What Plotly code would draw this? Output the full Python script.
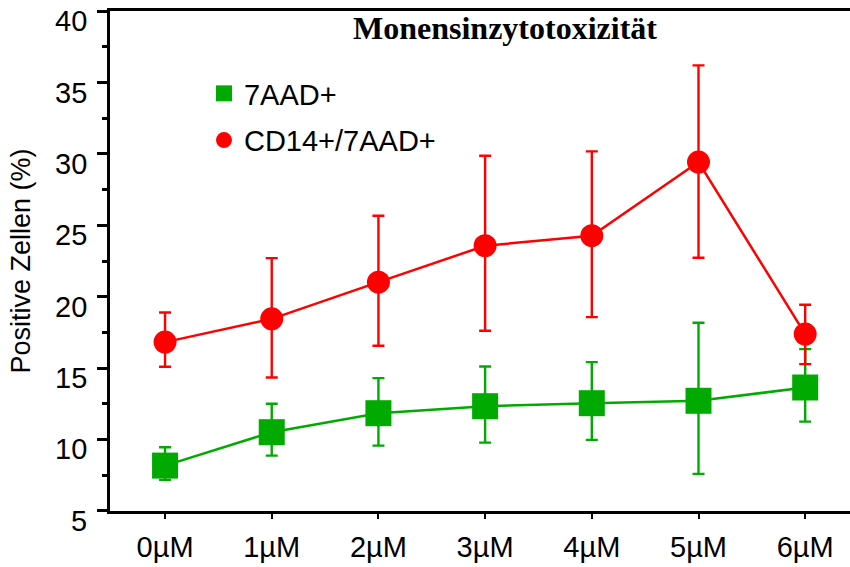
import plotly.graph_objects as go

categories = ["0µM", "1µM", "2µM", "3µM", "4µM", "5µM", "6µM"]

# 7AAD+ (green squares)
green_mean = [8.17, 10.51, 11.84, 12.33, 12.54, 12.71, 13.64]
green_upper = [9.46, 12.50, 14.30, 15.11, 15.42, 18.17, 16.33]
green_lower = [7.17, 8.87, 9.57, 9.78, 9.97, 7.59, 11.25]

# CD14+/7AAD+ (red circles)
red_mean = [16.82, 18.45, 21.02, 23.57, 24.27, 29.43, 17.38]
red_upper = [18.89, 22.70, 25.67, 29.87, 30.18, 36.20, 19.44]
red_lower = [15.09, 14.34, 16.56, 17.61, 18.57, 22.73, 15.28]

y_ticks = [5, 10, 15, 20, 25, 30, 35, 40]

GREEN = "#00AA00"
RED = "#FF0000"

xs = list(range(len(categories)))

def err(mean, up, lo):
    return ([u - m for u, m in zip(up, mean)], [m - l for m, l in zip(mean, lo)])

g_plus, g_minus = err(green_mean, green_upper, green_lower)
r_plus, r_minus = err(red_mean, red_upper, red_lower)

fig = go.Figure()

fig.add_trace(go.Scatter(
    x=xs, y=green_mean, mode="lines+markers", showlegend=False,
    line=dict(color=GREEN, width=2.5),
    marker=dict(symbol="square", size=26, color=GREEN),
    error_y=dict(type="data", symmetric=False, array=g_plus, arrayminus=g_minus,
                 color=GREEN, thickness=2.4, width=6),
))
fig.add_trace(go.Scatter(
    x=xs, y=red_mean, mode="lines+markers", showlegend=False,
    line=dict(color=RED, width=2.5),
    marker=dict(symbol="circle", size=23, color=RED),
    error_y=dict(type="data", symmetric=False, array=r_plus, arrayminus=r_minus,
                 color=RED, thickness=2.4, width=6),
))

# legend entries
fig.add_trace(go.Scatter(x=[None], y=[None], mode="markers", name="7AAD+",
                         legendgroup="a",
                         marker=dict(symbol="square", size=26, color=GREEN)))
fig.add_trace(go.Scatter(x=[None], y=[None], mode="markers", name="CD14+/7AAD+",
                         legendgroup="b",
                         marker=dict(symbol="circle", size=23, color=RED)))

fig.add_annotation(
    text="<b>Monensinzytotoxizität</b>", xref="paper", yref="paper",
    x=0.534, y=0.967, xanchor="center", yanchor="middle", showarrow=False,
    font=dict(family="Liberation Serif, Times New Roman, serif", size=32, color="black"),
)

# y tick labels (sit just below their tick marks, as in the reference)
for v in y_ticks:
    fig.add_annotation(
        text=str(v), xref="paper", yref="y", x=0, y=v,
        xanchor="right", yanchor="middle", xshift=-21, yshift=-10,
        showarrow=False, font=dict(size=29, color="black"),
    )

fig.update_layout(
    width=850, height=567,
    margin=dict(l=110, r=0, t=11, b=56, autoexpand=False),
    paper_bgcolor="white", plot_bgcolor="white",
    font=dict(family="Liberation Sans, Arial, sans-serif", size=29, color="black"),
    legend=dict(x=0.127, y=0.886, xanchor="left", yanchor="top",
                bgcolor="rgba(0,0,0,0)", font=dict(size=29),
                traceorder="grouped", tracegroupgap=6, itemsizing="trace"),
    xaxis=dict(
        range=[-0.516, 6.42], tickmode="array", tickvals=xs, ticktext=categories,
        showgrid=False, zeroline=False, showline=True, linecolor="black", linewidth=2.5,
        mirror=True, ticks="outside", ticklen=5, tickwidth=2, tickcolor="black",
        tickfont=dict(size=29), ticklabelstandoff=3, automargin=False,
    ),
    yaxis=dict(
        range=[4.99, 40.01], tickmode="array", tickvals=y_ticks,
        showgrid=False, zeroline=False, showline=True, linecolor="black", linewidth=2.5,
        ticks="outside", ticklen=10, tickwidth=2.5, tickcolor="black",
        showticklabels=False, automargin=False,
        minor=dict(dtick=2.5, tick0=5, ticks="outside", ticklen=5, tickwidth=2.5,
                   tickcolor="black", showgrid=False),
        title=dict(text="Positive Zellen (%)", font=dict(size=27), standoff=59),
    ),
)

fig.write_html("out.html")
